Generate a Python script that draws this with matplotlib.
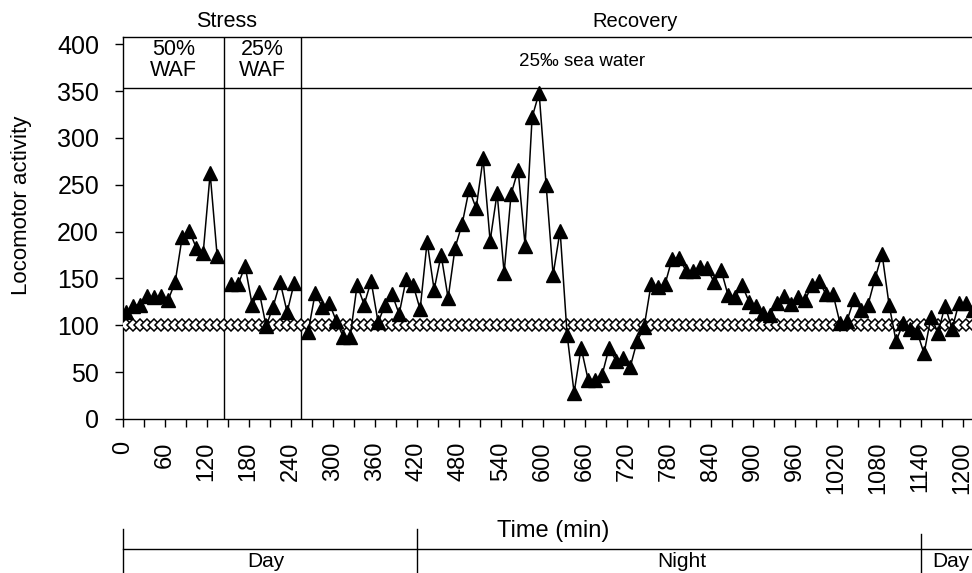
import matplotlib.pyplot as plt
import numpy as np
from matplotlib.transforms import blended_transform_factory

plt.rcParams['font.family'] = ['Liberation Sans', 'DejaVu Sans']

# sampling: one reading every 10 min, plotted mid-interval
minutes = np.arange(5, 1216, 10)

# locomotor activity (% of control), NaN where a treatment phase changes
stress_50 = [114, 121, 122, 131, 130, 131, 127, 146, 194, 201, 183, 177, 262, 174]
stress_25 = [144, 144, 163, 122, 136, 99, 120, 146, 114, 145]
recovery = [93, 134, 120, 124, 105, 88, 88, 143, 122, 147,
            103, 122, 133, 112, 149, 143, 117, 189, 138, 175,
            129, 183, 208, 245, 225, 278, 190, 241, 156, 240,
            266, 185, 322, 348, 250, 154, 201, 90, 28, 76,
            42, 42, 47, 76, 62, 65, 55, 83, 98, 144,
            141, 144, 171, 172, 158, 158, 162, 161, 146, 159,
            132, 130, 143, 125, 121, 113, 111, 124, 131, 123,
            130, 127, 143, 147, 133, 133, 102, 105, 128, 116,
            122, 150, 176, 122, 83, 102, 96, 93, 70, 109,
            92, 121, 96, 124, 124, 116]
activity = np.array(stress_50 + [np.nan] + stress_25 + [np.nan] + recovery, dtype=float)

CONTROL_LEVEL = 100
control = np.full(len(minutes), CONTROL_LEVEL)

# phase boundaries (min) and labels
phase_edges = [145, 255]
phase_top = 353
daylight_edges = [0, 420, 1140]

fig = plt.figure(figsize=(9.72, 5.73), dpi=100)
ax = fig.add_axes([0.1262, 0.2688, 0.8738, 0.6672])

ax.plot(minutes, control, color='black', lw=0.8, marker='D', markersize=6.5,
        markerfacecolor='white', markeredgecolor='black', markeredgewidth=1.1, zorder=3)
ax.plot(minutes, activity, color='black', lw=1.1, marker='^', markersize=9.5,
        markerfacecolor='black', markeredgecolor='black', zorder=4)

# treatment boxes
for x in phase_edges:
    ax.axvline(x, color='black', lw=1, zorder=2)
ax.axhline(phase_top, color='black', lw=1, zorder=2)

ax.text(72.5, 383, '50%\nWAF', ha='center', va='center', fontsize=15.5, linespacing=1.0)
ax.text(200, 383, '25%\nWAF', ha='center', va='center', fontsize=15.5, linespacing=1.0)
ax.text(656, 382, '25‰ sea water', ha='center', va='center', fontsize=13.5)
ax.text(148, 424, 'Stress', ha='center', va='center', fontsize=15.5, clip_on=False)
ax.text(732, 424, 'Recovery', ha='center', va='center', fontsize=14.5, clip_on=False)

ax.set_xlim(0, 1213.5)
ax.set_ylim(0, 408)
ax.set_yticks(np.arange(0, 401, 50))
ax.set_xticks(np.arange(0, 1201, 60))
ax.set_xticks(np.arange(0, 1201, 30), minor=True)
ax.tick_params(axis='y', direction='out', length=6, width=1, pad=11, labelsize=18)
ax.tick_params(axis='x', which='both', direction='out', length=6, width=1, pad=10,
               labelsize=17, labelrotation=90)
ax.spines['right'].set_visible(False)
for s in ['left', 'bottom', 'top']:
    ax.spines[s].set_linewidth(1)

ax.set_ylabel('Locomotor activity', fontsize=16)
ax.yaxis.set_label_coords(-0.107, 0.56)

fig.text(0.569, 0.0733, 'Time (min)', ha='center', va='center', fontsize=17)

# day / night bracket under the axis
trans = blended_transform_factory(ax.transData, fig.transFigure)
ax.plot([0, 1300], [0.0419, 0.0419], color='black', lw=1, transform=trans, clip_on=False)
ax.plot([0, 0], [0.0768, 0], color='black', lw=1, transform=trans, clip_on=False)
ax.plot([420, 420], [0.0768, 0], color='black', lw=1, transform=trans, clip_on=False)
ax.plot([1140, 1140], [0.068, 0], color='black', lw=1, transform=trans, clip_on=False)
ax.text(205, 0.003, 'Day', ha='center', va='bottom', fontsize=15, transform=trans)
ax.text(799, 0.003, 'Night', ha='center', va='bottom', fontsize=15, transform=trans)
ax.text(1157, 0.003, 'Day', ha='left', va='bottom', fontsize=15, transform=trans)

fig.savefig('out.png', dpi=100)
